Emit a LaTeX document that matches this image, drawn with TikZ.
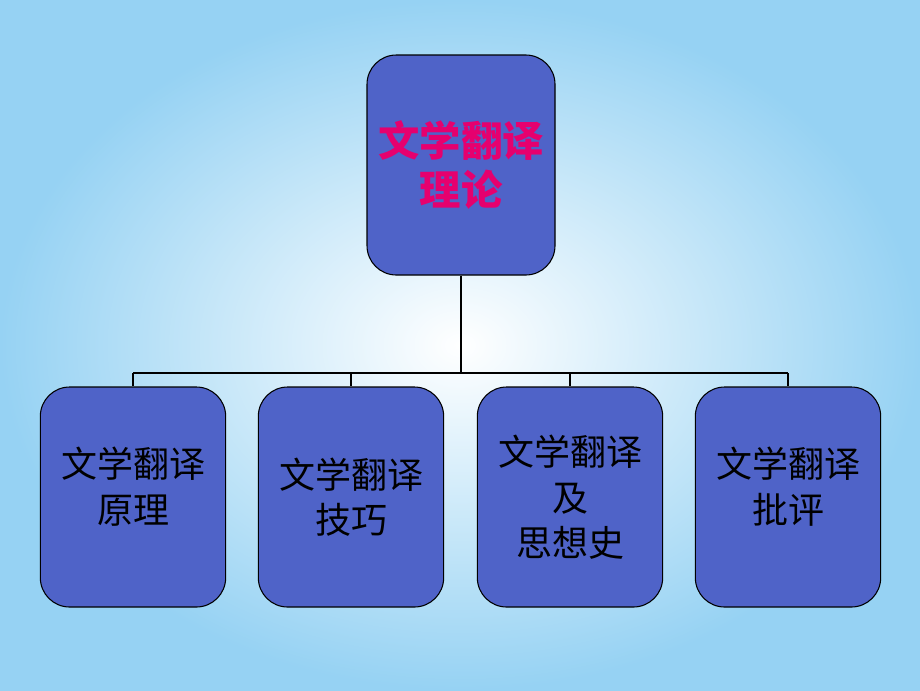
\documentclass[tikz,border=0pt]{standalone}
\usepackage{fontspec}
\newfontfamily\cjk{Noto Sans CJK SC}
\usetikzlibrary{positioning}
\definecolor{boxblue}{RGB}{79,99,200}
\definecolor{skyedge}{RGB}{150,210,243}
\definecolor{titlered}{RGB}{230,0,110}
\tikzset{
  topbox/.style={draw=black, line width=0.8pt, fill=boxblue, rounded corners=22pt,
      minimum width=141pt, minimum height=165pt, align=center,
      font=\cjk\bfseries\fontsize{31}{37}\selectfont, text=titlered},
  subbox/.style={draw=black, line width=0.8pt, fill=boxblue, rounded corners=22pt,
      minimum width=139pt, minimum height=165pt, align=center,
      font=\cjk\fontsize{27}{34}\selectfont, text=black},
  link/.style={draw=black, line width=1.6pt}
}
\begin{document}
\begin{tikzpicture}[x=0.75pt, y=-0.75pt]

  % background
  \useasboundingbox (0,0) rectangle (920,690);
  \shade[inner color=white, outer color=skyedge] (0,0) rectangle (920,690);

  % top node
  \node (theory) [topbox] at (461,165) {文学翻译\\理论};

  % four sub nodes
  \node (principle) [subbox] at (133,497) {文学翻译\\原理\\[-0.6em]};
  \node (skill) [subbox] at (351,497) {文学翻译\\技巧};
  \node (history) [subbox] at (570,497) {文学翻译\\及\\思想史\\[-1.2em]};
  \node (critic) [subbox] at (788,497) {文学翻译\\批评\\[-0.6em]};

  % bus line
  \coordinate (bus) at (461,373);
  \draw[link] (theory.south) -- (bus);
  \draw[link] (principle.north |- bus) -- (critic.north |- bus);
  \foreach \n in {principle,skill,history,critic}
    \draw[link] (\n.north |- bus) -- (\n.north);

\end{tikzpicture}
\end{document}
